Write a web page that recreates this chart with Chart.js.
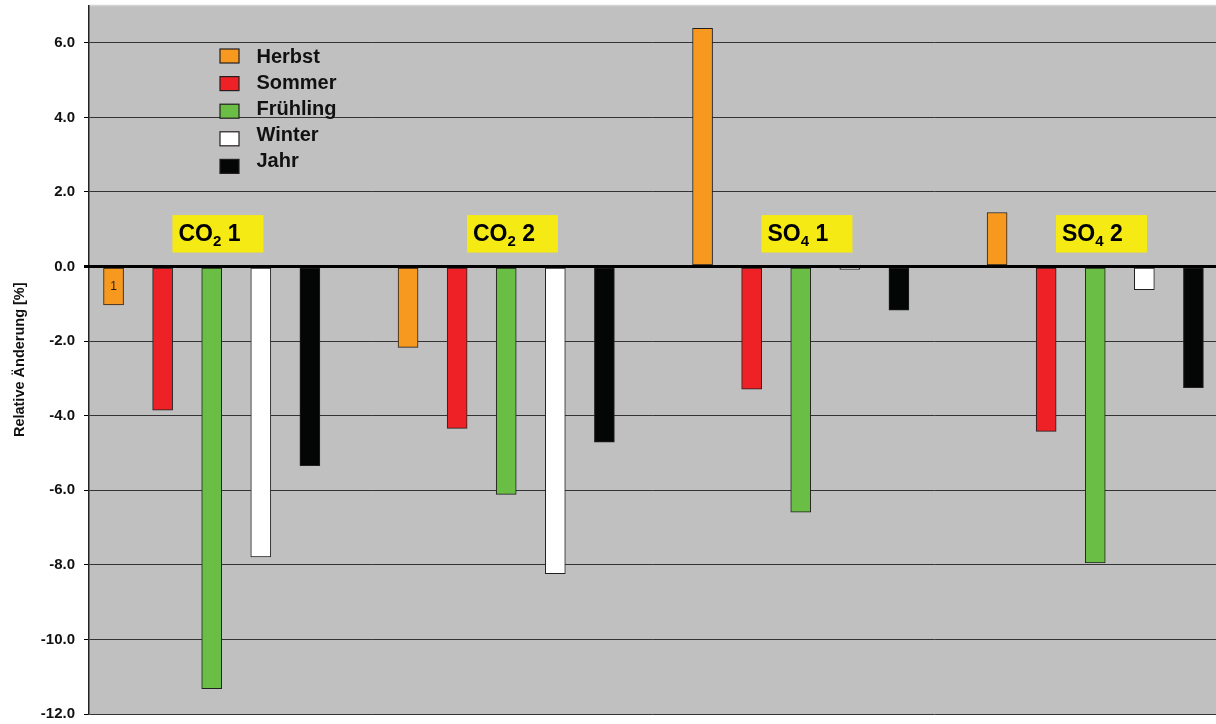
<!DOCTYPE html>
<html lang="de">
<head>
    <meta charset="UTF-8">
    <title>Relative Änderung</title>
    <script src="https://cdn.jsdelivr.net/npm/chart.js"></script>
    <style>
        html, body { margin: 0; padding: 0; background: #fff; overflow: hidden; }
        #wrap { width: 1216px; height: 724px; position: relative; }
    </style>
</head>
<body>
    <div id="wrap"><canvas id="barChart"></canvas></div>

    <script>
        // Groups and seasons
        const groups = ['CO2 1', 'CO2 2', 'SO4 1', 'SO4 2'];
        const seasons = ['Herbst', 'Sommer', 'Frühling', 'Winter', 'Jahr'];

        // Relative change in % per group
        const herbst    = [-1.03, -2.17,  6.39,  1.45];
        const sommer    = [-3.85, -4.34, -3.29, -4.42];
        const fruehling = [-11.32, -6.11, -6.59, -7.95];
        const winter    = [-7.79, -8.24, -0.08, -0.62];
        const jahr      = [-5.34, -4.71, -1.17, -3.25];

        const seasonColors = ['#f7991f', '#ee2226', '#6abd45', '#ffffff', '#040606'];
        const FONT = '"Liberation Sans", Arial, sans-serif';
        const SLOTS_PER_GROUP = 6; // 5 bars + 1 empty slot

        Chart.defaults.font.family = FONT;

        const seriesValues = [herbst, sommer, fruehling, winter, jahr];
        const datasets = seasons.map((name, s) => ({
            label: name,
            data: seriesValues[s].map((v, g) => ({ x: g * SLOTS_PER_GROUP + s, y: v })),
            backgroundColor: seasonColors[s],
            borderColor: '#231f20',
            borderWidth: 1,
            borderSkipped: false,
            grouped: false,
            barPercentage: 1,
            categoryPercentage: 1,
            maxBarThickness: 20
        }));

        // grey plot area
        const plotBackground = {
            id: 'plotBackground',
            beforeDraw(chart) {
                const { ctx, chartArea: a } = chart;
                ctx.save();
                ctx.fillStyle = '#c0c0c0';
                ctx.fillRect(a.left, a.top, a.right - a.left, a.bottom - a.top);
                ctx.strokeStyle = '#d4d4d4';
                ctx.lineWidth = 1.5;
                ctx.beginPath();
                ctx.moveTo(a.left, a.top);
                ctx.lineTo(a.right, a.top);
                ctx.stroke();
                ctx.restore();
            }
        };

        // zero line on top of bars, yellow group labels, small "1" in first bar
        const overlays = {
            id: 'overlays',
            afterDatasetsDraw(chart) {
                const { ctx, chartArea: a, scales: { x, y } } = chart;
                const y0 = y.getPixelForValue(0);
                ctx.save();
                ctx.strokeStyle = '#000';
                ctx.lineWidth = 3;
                ctx.beginPath();
                ctx.moveTo(a.left - 4, y0);
                ctx.lineTo(a.right, y0);
                ctx.stroke();

                groups.forEach((name, g) => {
                    const m = name.match(/^([A-Za-z]+)(\d)(.*)$/);
                    const left = x.getPixelForValue(g * SLOTS_PER_GROUP + 1.2);
                    const top = y.getPixelForValue(1.38);
                    const bottom = y.getPixelForValue(0.375);
                    ctx.fillStyle = '#f5ea14';
                    ctx.fillRect(left, top, 91, bottom - top);

                    ctx.fillStyle = '#000';
                    ctx.textAlign = 'left';
                    ctx.textBaseline = 'alphabetic';
                    const base = top + 26;
                    let tx = left + 6;
                    ctx.font = 'bold 23px ' + FONT;
                    ctx.fillText(m[1], tx, base);
                    tx += ctx.measureText(m[1]).width;
                    ctx.font = 'bold 15px ' + FONT;
                    ctx.fillText(m[2], tx, base + 4.5);
                    tx += ctx.measureText(m[2]).width;
                    ctx.font = 'bold 23px ' + FONT;
                    ctx.fillText(m[3], tx, base);
                });

                const bar = chart.getDatasetMeta(0).data[0];
                ctx.font = '12px ' + FONT;
                ctx.textAlign = 'center';
                ctx.textBaseline = 'middle';
                ctx.fillStyle = '#231f20';
                ctx.fillText('1', bar.x, (bar.y + bar.base) / 2);
                ctx.restore();
            }
        };

        // legend inside the plot
        const insideLegend = {
            id: 'insideLegend',
            afterDraw(chart) {
                const { ctx, chartArea: a } = chart;
                ctx.save();
                seasons.forEach((name, i) => {
                    const bx = a.left + 131;
                    const by = a.top + 43.5 + i * 27.6;
                    ctx.fillStyle = seasonColors[i];
                    ctx.fillRect(bx, by, 19, 14);
                    ctx.strokeStyle = '#231f20';
                    ctx.lineWidth = 1.2;
                    ctx.strokeRect(bx, by, 19, 14);

                    ctx.fillStyle = '#111';
                    ctx.font = 'bold 20px ' + FONT;
                    ctx.textAlign = 'left';
                    ctx.textBaseline = 'alphabetic';
                    ctx.fillText(name, a.left + 167.5, a.top + 57.5 + i * 26);
                });
                ctx.restore();
            }
        };

        const isZero = c => c.tick && c.tick.value === 0;

        new Chart(document.getElementById('barChart'), {
            type: 'bar',
            data: { datasets: datasets },
            options: {
                responsive: true,
                maintainAspectRatio: false,
                animation: false,
                layout: { padding: { top: 5.5, bottom: 10, left: 0, right: 0 } },
                plugins: {
                    legend: { display: false },
                    tooltip: { enabled: false }
                },
                scales: {
                    x: {
                        type: 'linear',
                        min: -0.5,
                        max: 22.46,
                        offset: false,
                        display: false,
                        ticks: { stepSize: 6, includeBounds: false }
                    },
                    y: {
                        min: -12,
                        max: 7,
                        afterFit(scale) {
                            scale.width = 89;
                            scale.paddingTop = 0;
                            scale.paddingBottom = 0;
                        },
                        ticks: {
                            stepSize: 2,
                            includeBounds: false,
                            padding: 9,
                            color: '#111',
                            font: { size: 15, weight: 'bold' },
                            callback: v => v.toFixed(1)
                        },
                        grid: {
                            color: c => isZero(c) ? '#000' : '#333',
                            lineWidth: c => isZero(c) ? 3 : 1,
                            tickLength: 5,
                            tickColor: '#000'
                        },
                        border: { color: '#222', width: 1.5 },
                        title: {
                            display: true,
                            text: 'Relative Änderung [%]',
                            color: '#111',
                            font: { size: 14.5, weight: 'bold' },
                            padding: { top: 11, bottom: 0 }
                        }
                    }
                }
            },
            plugins: [plotBackground, overlays, insideLegend]
        });
    </script>
</body>
</html>
